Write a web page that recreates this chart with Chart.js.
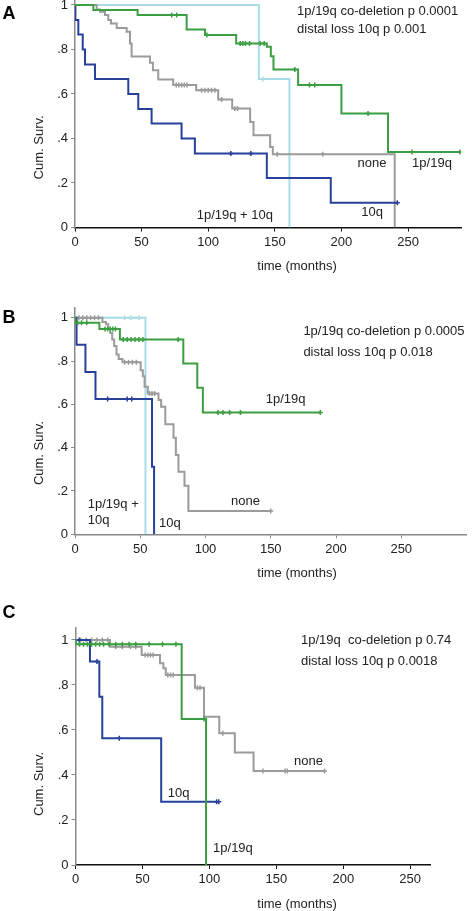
<!DOCTYPE html>
<html>
<head>
<meta charset="utf-8">
<script src="https://cdn.jsdelivr.net/npm/chart.js@4.4.1/dist/chart.umd.min.js"></script>
<style>
    html, body { margin: 0; padding: 0; background: #fff; width: 472px; height: 911px; overflow: hidden; position: relative; }
    canvas { position: absolute; left: 0; }
</style>
</head>
<body>
<canvas id="cA" width="472" height="300" style="top:-20px"></canvas>
<canvas id="cB" width="472" height="310" style="top:280px"></canvas>
<canvas id="cC" width="472" height="321" style="top:590px"></canvas>
<script>
// 刻度
const xTicks = [0, 50, 100, 150, 200, 250];
const yTicks = [0, 0.2, 0.4, 0.6, 0.8, 1];
const yTickLabels = ['0', '.2', '.4', '.6', '.8', '1'];

// === A ===  (T = event times, S = survival after event, C = censored times)
const aNoneT = [0, 16.3, 18.8, 22.5, 25, 27, 31.3, 38.8, 41.3, 42.5, 56.3, 58.5, 62.5, 73.7, 91, 107.5, 118, 131.5, 134, 146.5, 148.5, 240];
const aNoneS = [1, 0.98, 0.97, 0.955, 0.933, 0.917, 0.897, 0.88, 0.827, 0.768, 0.74, 0.707, 0.665, 0.64, 0.617, 0.575, 0.535, 0.474, 0.414, 0.362, 0.329, 0];
const aNoneC = [76, 78, 80, 82, 84, 95, 97.5, 100, 102.5, 105, 110, 120, 122, 151.8, 186];
const aCoT = [0, 13.8, 47, 83.8, 97.6, 121, 144, 147, 149, 167.5, 200, 235, 289];
const aCoS = [1, 0.977, 0.955, 0.89, 0.865, 0.827, 0.812, 0.77, 0.71, 0.64, 0.512, 0.339, 0.339];
const aCoC = [72.6, 76.3, 99, 124, 126, 128, 131, 139, 142, 165, 176, 180, 220, 253, 289];
const aLossT = [0, 0.3, 2.5, 5.8, 7.5, 15, 40, 47.5, 57.5, 80, 90, 144, 192, 242];
const aLossS = [1, 0.933, 0.867, 0.8, 0.733, 0.667, 0.6, 0.533, 0.467, 0.4, 0.333, 0.222, 0.111, 0.111];
const aLossC = [117, 132, 242];
const aBothT = [0, 138, 161];
const aBothS = [1, 0.667, 0];
const aBothC = [141];

// === B ===
const bNoneT = [0, 21, 23.8, 25.5, 27, 28.5, 30, 31.8, 33.5, 36.4, 50.3, 52, 53.3, 55.8, 64, 66, 69.2, 75.5, 77.3, 79.3, 83.9, 86.9, 150];
const bNoneS = [1, 0.98, 0.97, 0.95, 0.93, 0.9, 0.87, 0.83, 0.81, 0.794, 0.758, 0.73, 0.681, 0.65, 0.62, 0.589, 0.508, 0.446, 0.366, 0.289, 0.224, 0.108, 0.108];
const bNoneC = [3, 6, 9, 12, 15, 18, 38, 41, 44, 47, 57, 59, 61, 150];
const bCoT = [0, 0.3, 18.7, 34.4, 83, 93.7, 98, 188];
const bCoS = [1, 0.977, 0.948, 0.9, 0.789, 0.677, 0.563, 0.563];
const bCoC = [2, 5, 9, 23, 25, 27, 29, 31, 37, 40, 43, 46, 49, 52, 79, 109.6, 113.4, 118.5, 126.8, 188];
const bLossT = [0, 1.2, 8, 15.7, 59, 60.6];
const bLossS = [1, 0.875, 0.75, 0.625, 0.3125, 0];
const bLossC = [25, 40, 43.5];
const bBothT = [0, 54];
const bBothS = [1, 0];
const bBothC = [38, 42.7, 49];

// === C ===
const cNoneT = [0, 25.8, 49.4, 63.1, 65.6, 67.4, 89.2, 96, 107.4, 119, 133, 186];
const cNoneS = [1, 0.97, 0.933, 0.896, 0.874, 0.844, 0.788, 0.659, 0.585, 0.5, 0.418, 0.418];
const cNoneC = [4, 8, 12, 16, 20, 24, 30, 35, 41, 45, 52, 54, 56, 58, 69, 71, 73, 91, 93, 110, 140, 156.5, 158.2, 186];
const cCoT = [0, 0.3, 79.3, 97.5];
const cCoS = [1, 0.981, 0.649, 0];
const cCoC = [3, 6, 9, 12, 15, 18, 21, 25, 30, 35, 40, 45, 55, 65, 75, 96];
const cLossT = [0, 10.8, 17.8, 20, 64, 107];
const cLossS = [1, 0.904, 0.748, 0.563, 0.281, 0.281];
const cLossC = [2.8, 16, 32.7, 105.4, 107];

// 颜色 / 字体
const GREEN = '#3b9e40';
const BLUE = '#27419b';
const LIGHT = '#a9dce7';
const GRAY = '#9b9b9b';
const FONT = '"Liberation Sans", Arial, Helvetica, sans-serif';

function survAt(T, S, t) {
    let s = S[0];
    for (let i = 0; i < T.length; i++) if (T[i] <= t) s = S[i];
    return s;
}

function curve(T, S, color) {
    return {
        type: 'line',
        data: T.map((t, i) => ({ x: t, y: S[i] })),
        borderColor: color, borderWidth: 2,
        pointRadius: 0, stepped: 'before', fill: false,
    };
}

function censor(T, S, C, color) {
    return {
        type: 'scatter',
        data: C.map(t => ({ x: t, y: survAt(T, S, t) })),
        borderColor: color, backgroundColor: color,
        pointStyle: 'cross', pointRadius: 2.5, borderWidth: 1.5, showLine: false,
    };
}

function makePanel(id, geo, sets, notes) {
    const textPlugin = {
        id: 'notes' + id,
        afterDraw(chart) {
            const ctx = chart.ctx, xs = chart.scales.x, ys = chart.scales.y, a = chart.chartArea;
            ctx.save();
            ctx.fillStyle = '#222';
            ctx.textBaseline = 'middle';
            ctx.font = '13px ' + FONT;
            notes.forEach(n => {
                ctx.textAlign = n.align || 'center';
                ctx.fillText(n.t, xs.getPixelForValue(n.x), ys.getPixelForValue(n.y));
            });
            // x title
            ctx.textAlign = 'center';
            ctx.fillText('time (months)', 297, a.bottom + 39);
            // y title
            ctx.save();
            ctx.translate(39, ys.getPixelForValue(geo.yTitleAt));
            ctx.rotate(-Math.PI / 2);
            ctx.fillText('Cum. Surv.', 0, 0);
            ctx.restore();
            // panel letter
            ctx.font = 'bold 18px ' + FONT;
            ctx.fillStyle = '#000';
            ctx.fillText(geo.letter, 9, geo.letterY);
            ctx.restore();
        }
    };

    return new Chart(document.getElementById(id), {
        type: 'line',
        data: { datasets: sets },
        options: {
            responsive: false,
            animation: false,
            layout: { padding: { top: geo.plotTop, right: 472 - geo.plotRight, left: 0, bottom: 0 } },
            plugins: { legend: { display: false }, tooltip: { enabled: false } },
            scales: {
                x: {
                    type: 'linear', min: 0, max: geo.xMax,
                    afterBuildTicks: s => { s.ticks = xTicks.map(v => ({ value: v })); },
                    afterFit: s => { s.height = geo.height - geo.plotBottom; },
                    ticks: { color: '#222', font: { size: 13, family: FONT }, padding: 3, maxRotation: 0, autoSkip: false },
                    grid: { drawOnChartArea: false, drawTicks: true, tickLength: 4, color: geo.xAxisColor },
                    border: { display: true, color: geo.xAxisColor, width: 1.5 },
                },
                y: {
                    type: 'linear', min: 0, max: geo.yMax,
                    afterBuildTicks: s => { s.ticks = yTicks.map(v => ({ value: v })); },
                    afterFit: s => { s.width = geo.plotLeft; },
                    ticks: {
                        color: '#222', font: { size: 13, family: FONT }, padding: 3, autoSkip: false,
                        callback: v => yTickLabels[yTicks.indexOf(v)],
                    },
                    grid: { drawOnChartArea: false, drawTicks: true, tickLength: 4, color: '#888' },
                    border: { display: true, color: '#8a8a8a', width: 1.5 },
                },
            },
        },
        plugins: [textPlugin],
    });
}

// A
makePanel('cA', {
    height: 300, plotTop: 18.3, plotBottom: 247.5, plotLeft: 75, plotRight: 461.3,
    xMax: 290, yMax: 1.03, xAxisColor: '#111', yTitleAt: 0.36, letter: 'A', letterY: 34,
}, [
    curve(aCoT, aCoS, GREEN), censor(aCoT, aCoS, aCoC, GREEN),
    curve(aLossT, aLossS, BLUE), censor(aLossT, aLossS, aLossC, BLUE),
    curve(aNoneT, aNoneS, GRAY), censor(aNoneT, aNoneS, aNoneC, GRAY),
    curve(aBothT, aBothS, LIGHT), censor(aBothT, aBothS, aBothC, LIGHT),
], [
    { t: 'none', x: 223, y: 0.29 },
    { t: '1p/19q', x: 268, y: 0.29 },
    { t: '10q', x: 223, y: 0.07 },
    { t: '1p/19q + 10q', x: 120, y: 0.056 },
    { t: '1p/19q co-deletion p 0.0001', x: 166.7, y: 0.973, align: 'left' },
    { t: 'distal loss 10q p 0.001', x: 166.7, y: 0.888, align: 'left' },
]);

// B
makePanel('cB', {
    height: 310, plotTop: 28, plotBottom: 254.3, plotLeft: 75, plotRight: 471,
    xMax: 300, yMax: 1.045, xAxisColor: '#888', yTitleAt: 0.375, letter: 'B', letterY: 38,
}, [
    curve(bCoT, bCoS, GREEN), censor(bCoT, bCoS, bCoC, GREEN),
    curve(bLossT, bLossS, BLUE), censor(bLossT, bLossS, bLossC, BLUE),
    curve(bNoneT, bNoneS, GRAY), censor(bNoneT, bNoneS, bNoneC, GRAY),
    curve(bBothT, bBothS, LIGHT), censor(bBothT, bBothS, bBothC, LIGHT),
], [
    { t: '1p/19q +', x: 9.8, y: 0.14, align: 'left' },
    { t: '10q', x: 9.8, y: 0.066, align: 'left' },
    { t: '10q', x: 72.7, y: 0.052 },
    { t: 'none', x: 130.7, y: 0.154 },
    { t: '1p/19q', x: 161.4, y: 0.625 },
    { t: '1p/19q co-deletion p 0.0005', x: 175, y: 0.935, align: 'left' },
    { t: 'distal loss 10q p 0.018', x: 175, y: 0.838, align: 'left' },
]);

// C
makePanel('cC', {
    height: 321, plotTop: 38, plotBottom: 275, plotLeft: 75.5, plotRight: 430.3,
    xMax: 265, yMax: 1.053, xAxisColor: '#111', yTitleAt: 0.36, letter: 'C', letterY: 22.7,
}, [
    curve(cCoT, cCoS, GREEN), censor(cCoT, cCoS, cCoC, GREEN),
    curve(cLossT, cLossS, BLUE), censor(cLossT, cLossS, cLossC, BLUE),
    curve(cNoneT, cNoneS, GRAY), censor(cNoneT, cNoneS, cNoneC, GRAY),
], [
    { t: '10q', x: 77, y: 0.319 },
    { t: '1p/19q', x: 117.6, y: 0.074 },
    { t: 'none', x: 174, y: 0.462 },
    { t: '1p/19q  co-deletion p 0.74', x: 168.4, y: 0.996, align: 'left' },
    { t: 'distal loss 10q p 0.0018', x: 168.4, y: 0.904, align: 'left' },
]);
</script>
</body>
</html>
